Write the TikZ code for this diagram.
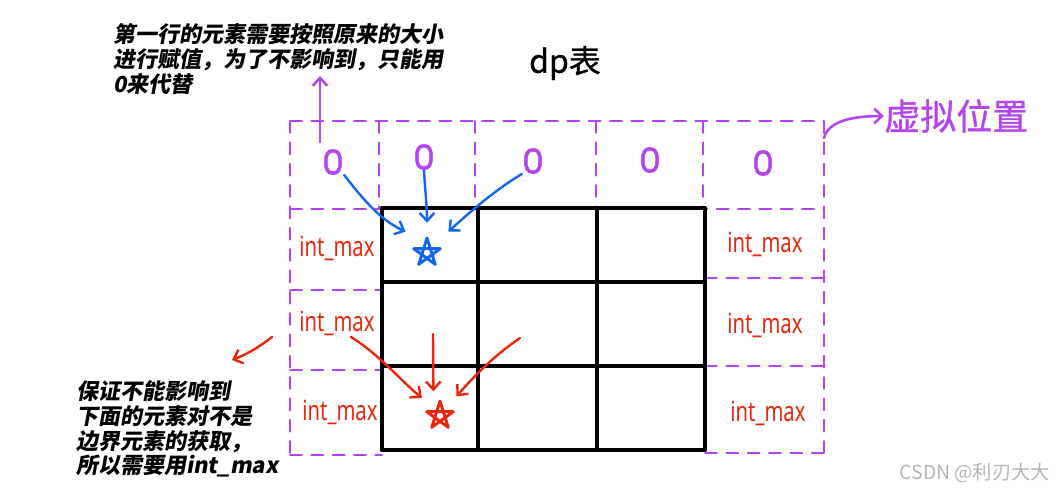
\documentclass[tikz,border=0pt]{standalone}
\usepackage{fontspec}
\setmainfont{Noto Sans}
\newfontfamily\cjk{Noto Sans CJK SC}
\newfontfamily\cjkm{Noto Sans CJK SC}[FakeBold=0.9]
\newfontfamily\cjkbi{Noto Sans CJK SC}[UprightFeatures={FakeSlant=0.18},BoldFeatures={FakeSlant=0.18}]
\newfontfamily\zerofont{Poppins}[FakeBold=1.3]
\usetikzlibrary{arrows.meta}
\definecolor{vio}{HTML}{B444F0}
\definecolor{hblue}{HTML}{1466F0}
\definecolor{hred}{HTML}{E8280C}
\definecolor{wmark}{HTML}{B4B4B4}
\begin{document}
\begin{tikzpicture}[x=0.75pt,y=-0.75pt,line cap=round,line join=round,
  gridline/.style={line width=2.8pt,black},
  vdash/.style={vio,line width=1.3pt,dash pattern=on 9pt off 7pt},
  zero/.style={text=vio,font=\zerofont\fontsize{26}{26}\selectfont,inner sep=0pt},
  imax/.style={text=hred,font=\fontsize{16}{16}\selectfont,inner sep=1pt},
  note/.style={font=\cjkbi\bfseries\fontsize{16.5}{18.6}\selectfont,align=left,anchor=west,inner sep=0pt},
  starnode/.style={circle,inner sep=0pt,minimum size=#1},
  barrow/.style={hblue,line width=1.8pt,-{Straight Barb[length=6pt,width=11pt]}},
  rarrow/.style={hred,line width=1.8pt,-{Straight Barb[length=6pt,width=11pt]}},
  parrow/.style={vio,line width=1.9pt,-{Straight Barb[length=6pt,width=11pt]}},
  pent/.style={line width=2.2pt}]
\useasboundingbox (0,0) rectangle (1060,492);

% virtual (dashed) positions
\draw[vdash] (290,121) -- (824,121);
\draw[vdash] (290,121) -- (290,455);
\draw[vdash] (824,121) -- (824,453);
\draw[vdash] (290,209) -- (824,209);
\draw[vdash] (290,455) -- (382,455);
\draw[vdash] (705,453) -- (824,453);
\draw[vdash] (290,290) -- (382,290);
\draw[vdash] (290,370) -- (382,370);
\draw[vdash] (705,278) -- (824,278);
\draw[vdash] (705,366) -- (824,366);
\foreach \xx in {379,475,596,703} \draw[vdash] (\xx,121) -- (\xx,209);

% dp table grid
\foreach \xx in {382,478,597,705} \draw[gridline] (\xx,208) -- (\xx,450);
\foreach \yy in {208,282,366,450} \draw[gridline] (382,\yy) -- (705,\yy);

% zeros
\node[zero] (z1) at (333,162) {0};
\node[zero] (z2) at (424,157) {0};
\node[zero] (z3) at (533,161) {0};
\node[zero] (z4) at (650,160) {0};
\node[zero] (z5) at (763,163) {0};

% int_max labels
\node[imax] (l1) at (337,248) {\scalebox{0.95}[1.3]{int\_max}};
\node[imax] (l2) at (337,323) {\scalebox{0.95}[1.3]{int\_max}};
\node[imax] (l3) at (340,412) {\scalebox{0.95}[1.3]{int\_max}};
\node[imax] (r1) at (765,244) {\scalebox{0.95}[1.3]{int\_max}};
\node[imax] (r2) at (765,325) {\scalebox{0.95}[1.3]{int\_max}};
\node[imax] (r3) at (768,413) {\scalebox{0.95}[1.3]{int\_max}};

% stars
\node[starnode=45pt] (bstar) at (427,253) {};
\draw[hblue,pent,shift={(bstar.center)}] (-90:15) -- (54:14) -- (198:14) -- (342:14) -- (126:14) -- cycle;
\node[starnode=38pt] (rstar) at (440,416) {};
\draw[hred,pent,shift={(rstar.center)}] (-90:15) -- (54:14) -- (198:14) -- (342:14) -- (126:14) -- cycle;

% blue arrows
\draw[barrow] (z1.south east) .. controls (362,198) and (380,220) .. (bstar.north west);
\draw[barrow] (z2.south) .. controls (425,190) and (427,205) .. (bstar.north);
\draw[barrow] (z3.south west) .. controls (495,190) and (470,212) .. (bstar.north east);

% red arrows
\coordinate (rs2) at (433,334);
\coordinate (rs3) at (520,338);
\draw[rarrow] (l2.-45) .. controls (380,355) and (400,380) .. (rstar.135);
\draw[rarrow] (rs2) -- (rstar.105);
\draw[rarrow] (rs3) .. controls (495,355) and (475,375) .. (rstar.50);
\coordinate (las) at (272,337);
\coordinate (lae) at (232,360);
\draw[rarrow] (las) .. controls (258,348) and (245,355) .. (lae);

% purple arrows
\coordinate (pus) at (320,142);
\coordinate (pue) at (320,76);
\draw[parrow] (pus) -- (pue);
\node[text=vio,font=\cjkm\fontsize{27}{27}\selectfont,anchor=west,inner sep=0pt] (vpos) at (884,116) {虚拟位置};
\coordinate (prs) at (824,138);
\draw[parrow] (prs) .. controls (828,122) and (850,116) .. (vpos.west);

% titles and notes
\node[font=\cjkm\fontsize{24}{24}\selectfont,inner sep=0pt] (title) at (565,63) {dp表};
\node[note] (topnote) at (113,59) {第一行的元素需要按照原来的大小\\进行赋值，为了不影响到，只能用\\0来代替};
\node[note] (botnote) at (76,429) {保证不能影响到\\下面的元素对不是\\边界元素的获取，\\所以需要用int\_max};
\node[text=wmark,font=\cjk\fontsize{14.5}{14.5}\selectfont,inner sep=0pt] (wm) at (975,473) {CSDN @利刃大大};
\end{tikzpicture}
\end{document}
